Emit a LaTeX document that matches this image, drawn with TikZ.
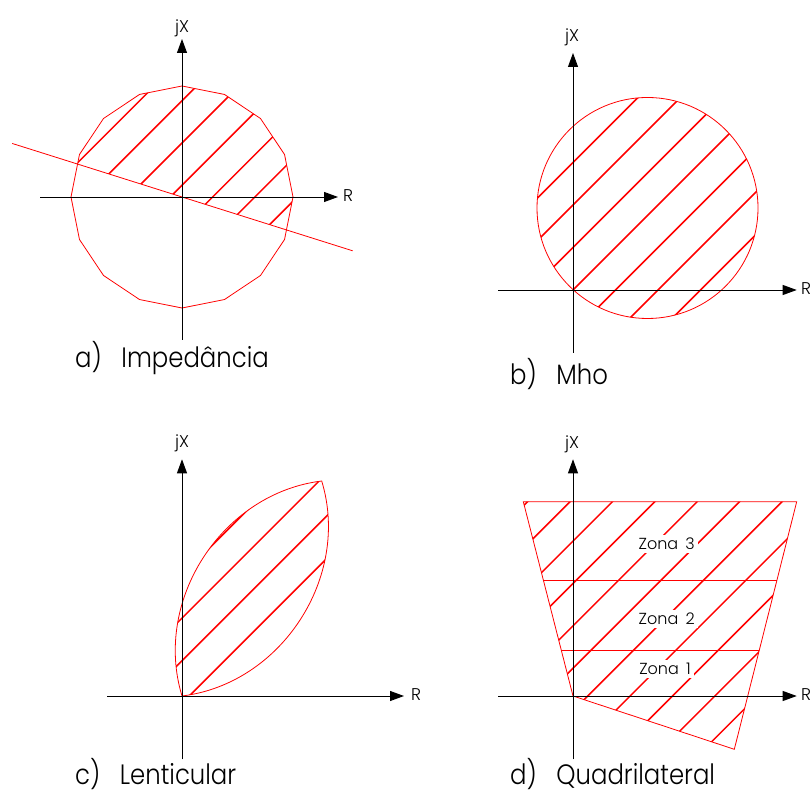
\documentclass[tikz,border=0pt]{standalone}
\usepackage{fontspec}
\setmainfont{Poppins Light}
\newfontfamily\capfont{Poppins Light}[FakeStretch=0.87]
\usepackage{tikz}
\usetikzlibrary{arrows.meta,calc}
\definecolor{zonered}{HTML}{FF0000}

\begin{document}
\begin{tikzpicture}[
  x=1pt, y=1pt,
  axis/.style={-{Triangle[length=14pt, width=10pt]}, line width=0.9pt, black},
  outline/.style={draw=zonered, line width=0.8pt},
  hatch/.style={zonered, line width=1.5pt},
  axlabel/.style={inner sep=0pt, anchor=base, font=\fontsize{17}{17}\selectfont},
  caption/.style={inner sep=0pt, anchor=base west, font=\capfont\fontsize{28}{28}\selectfont},
  zone/.style={fill=white, inner sep=3pt, font=\fontsize{16}{16}\selectfont}
]
\useasboundingbox (0,0) rectangle (810,792);

% a) Impedancia
\coordinate (Oa) at (182,595);
\begin{scope}[shift={(Oa)}]
  \begin{scope}
    \clip (90:111) \foreach \a in {112.5,135,...,427.5} { -- (\a:111) } -- cycle;
    \clip (162.5:300) -- (-17.5:300) -- ++(0,400) -- ++(-600,0) -- cycle;
    \foreach \d in {138.6,96.3,54,11.7,-30.6,-72.9,-115.2}
      \draw[hatch] (-200,\d-200) -- (200,\d+200);
  \end{scope}
  \draw[outline] (90:111) \foreach \a in {112.5,135,...,427.5} { -- (\a:111) } -- cycle;
  \draw[outline] (162.5:178) -- (-17.5:179);
  \coordinate (aL) at (-142,0);
  \coordinate (aR) at (156,0);
  \coordinate (aB) at (0,-143);
  \coordinate (aT) at (0,158);
\end{scope}
\draw[axis] (aL) -- (aR);
\draw[axis] (aB) -- (aT);
\node[axlabel] (aJX) at (182,759) {jX};
\node[axlabel, anchor=base west] (aRl) at (343,590.3) {R};
\node[caption] (aCap) at (75,424.3) {a)\hspace{0.7em}Impedância};

% b) Mho
\coordinate (Ob) at (573,502);
\begin{scope}[shift={(Ob)}]
  \begin{scope}
    \clip (74.5,82) circle[radius=110.5pt];
    \foreach \d in {127.5,85,42.5,0,-42.5,-85,-127.5}
      \draw[hatch] (-200,\d-200) -- (200,\d+200);
  \end{scope}
  \draw[outline] (74.5,82) circle[radius=110.5pt];
  \coordinate (bL) at (-74.7,0);
  \coordinate (bR) at (223.7,0);
  \coordinate (bB) at (0,-63);
  \coordinate (bT) at (0,237);
\end{scope}
\draw[axis] (bL) -- (bR);
\draw[axis] (bB) -- (bT);
\node[axlabel] (bJX) at (572,750) {jX};
\node[axlabel, anchor=base west] (bRl) at (801,497.3) {R};
\node[caption] (bCap) at (510,407.7) {b)\hspace{0.7em}Mho};

% c) Lenticular
\coordinate (Oc) at (182,96);
\begin{scope}[shift={(Oc)}]
  \coordinate (cP) at (139.7,215);
  \begin{scope}
    \clip (0,0) to[bend left=50] (cP) to[bend left=50] (0,0) -- cycle;
    \foreach \d in {120.5,77.9,35.3,-7.3,-49.9}
      \draw[hatch] (-200,\d-200) -- (200,\d+200);
  \end{scope}
  \draw[outline] (0,0) to[bend left=50] (cP) to[bend left=50] (0,0) -- cycle;
  \coordinate (cL) at (-74.7,0);
  \coordinate (cR) at (222,0);
  \coordinate (cB) at (0,-63.3);
  \coordinate (cT) at (0,236.7);
\end{scope}
\draw[axis] (cL) -- (cR);
\draw[axis] (cB) -- (cT);
\node[axlabel] (cJX) at (182,344.3) {jX};
\node[axlabel, anchor=base west] (cRl) at (411,91.3) {R};
\node[caption] (cCap) at (75,8) {c)\hspace{0.7em}Lenticular};

% d) Quadrilateral
\coordinate (Od) at (573,96);
\begin{scope}[shift={(Od)}]
  \begin{scope}
    \clip (0,0) -- (-49.7,194.3) -- (223.7,194.3) -- (161.3,-53.3) -- cycle;
    \foreach \d in {239.7,197.3,154.9,112.5,70.1,27.7,-14.7,-57.1,-99.5,-141.9,-184.3}
      \draw[hatch] (-300,\d-300) -- (300,\d+300);
    \draw[outline] (-100,115.3) -- (300,115.3);
    \draw[outline] (-100,45.7) -- (300,45.7);
  \end{scope}
  \draw[outline] (0,0) -- (-49.7,194.3) -- (223.7,194.3) -- (161.3,-53.3) -- cycle;
  \coordinate (dL) at (-74.7,0);
  \coordinate (dR) at (223.7,0);
  \coordinate (dB) at (0,-63.3);
  \coordinate (dT) at (0,236.7);
\end{scope}
\draw[axis] (dL) -- (dR);
\draw[axis] (dB) -- (dT);
\node[zone] (z3) at (666.7,248.3) {Zona\hspace{0.45em}3};
\node[zone] (z2) at (666.7,173.3) {Zona\hspace{0.45em}2};
\node[zone] (z1) at (665,123.3) {Zona\hspace{0.45em}1};
\node[axlabel] (dJX) at (572,343.3) {jX};
\node[axlabel, anchor=base west] (dRl) at (801,91.3) {R};
\node[caption] (dCap) at (510,8) {d)\hspace{0.7em}Quadrilateral};
\end{tikzpicture}
\end{document}
